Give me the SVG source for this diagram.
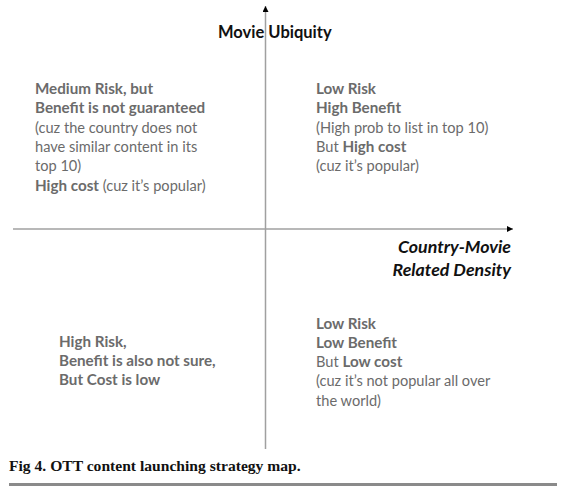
<svg xmlns="http://www.w3.org/2000/svg" width="564" height="489" viewBox="0 0 564 489">
<style>
.t{font-family:Lato,"Liberation Sans",sans-serif;font-size:14.6px;fill:#6b6b6b}
.b{font-weight:bold;font-size:15.2px}
.ax{font-family:Lato,"Liberation Sans",sans-serif;font-size:16.5px;font-weight:bold;fill:#111}
.xl{font-size:17.8px;font-style:italic}
.cap{font-family:"Liberation Serif",serif;font-size:15.6px;font-weight:bold;fill:#111}
.axis{stroke:#a0a0a0;stroke-width:1.5;fill:none}
</style>
<defs>
<marker id="ah" viewBox="0 0 10 10" refX="10" refY="5" markerWidth="6" markerHeight="6" markerUnits="userSpaceOnUse" orient="auto">
<path d="M0,0 L10,5 L0,10 Z" fill="#000"/>
</marker>
</defs>
<rect width="564" height="489" fill="#fff"/>
<g id="connectors">
<line class="axis" x1="13" y1="229" x2="513" y2="229" marker-end="url(#ah)"/>
<line class="axis" x1="265.5" y1="449" x2="265.5" y2="6" marker-end="url(#ah)"/>
</g>
<g id="y-label"><text class="ax" x="218" y="38">Movie Ubiquity</text></g>
<g id="x-label">
<text class="ax xl" text-anchor="end" x="511" y="253">Country-Movie</text>
<text class="ax xl" text-anchor="end" x="511" y="276">Related Density</text>
</g>
<g id="q-top-left">
<text class="t b" x="35" y="94">Medium Risk, but</text>
<text class="t b" x="35" y="113.3">Benefit is not guaranteed</text>
<text class="t" x="35" y="132.6">(cuz the country does not</text>
<text class="t" x="35" y="151.9">have similar content in its</text>
<text class="t" x="35" y="171.2">top 10)</text>
<text class="t" x="35" y="190.5"><tspan class="b">High cost</tspan> (cuz it’s popular)</text>
</g>
<g id="q-top-right">
<text class="t b" x="316" y="94">Low Risk</text>
<text class="t b" x="316" y="113.3">High Benefit</text>
<text class="t" x="316" y="132.6">(High prob to list in top 10)</text>
<text class="t" x="316" y="151.9">But <tspan class="b">High cost</tspan></text>
<text class="t" x="316" y="171.2">(cuz it’s popular)</text>
</g>
<g id="q-bottom-left">
<text class="t b" x="59" y="347">High Risk,</text>
<text class="t b" x="59" y="366.2">Benefit is also not sure,</text>
<text class="t b" x="59" y="385.4">But Cost is low</text>
</g>
<g id="q-bottom-right">
<text class="t b" x="316" y="328.5">Low Risk</text>
<text class="t b" x="316" y="347.8">Low Benefit</text>
<text class="t" x="316" y="367.1">But <tspan class="b">Low cost</tspan></text>
<text class="t" x="316" y="386.4">(cuz it’s not popular all over</text>
<text class="t" x="316" y="405.7">the world)</text>
</g>
<g id="caption">
<text class="cap" x="9" y="471">Fig 4. OTT content launching strategy map.</text>
<line x1="9" y1="484.5" x2="557" y2="484.5" stroke="#8a8a8a" stroke-width="3"/>
</g>
</svg>
